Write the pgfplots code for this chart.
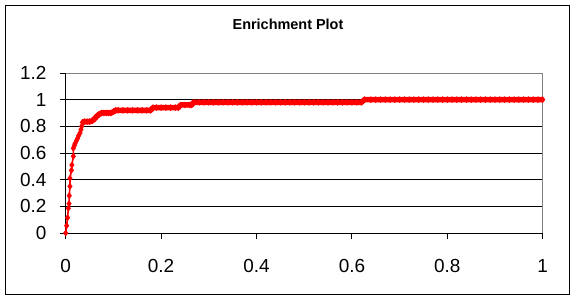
\documentclass[border=0pt]{standalone}
\usepackage{fontspec}
\setmainfont{Liberation Sans}
\usepackage{pgfplots}
\pgfplotsset{compat=1.18}
\definecolor{xred}{HTML}{FF0000}
\definecolor{xgray}{HTML}{808080}
\begin{document}
\begin{tikzpicture}[x=1bp,y=1bp]
\useasboundingbox (0,0) rectangle (576,300);
\draw[black, line width=1bp] (5.5,5.5) rectangle (569.5,294.5);
\node[anchor=base, font=\bfseries\fontsize{14.5}{16}\selectfont] at (288,271) {Enrichment Plot};
\begin{axis}[
  at={(65.7bp,67bp)}, anchor=south west,
  scale only axis, width=477bp, height=160bp,
  xmin=0, xmax=1, ymin=0, ymax=1.2,
  xtick={0,0.2,0.4,0.6,0.8,1},
  ytick={0,0.2,0.4,0.6,0.8,1,1.2},
  xticklabels={0,0.2,0.4,0.6,0.8,1},
  yticklabels={0,0.2,0.4,0.6,0.8,1,1.2},
  ymajorgrids, grid style={black, line width=0.9bp},
  axis line style={draw=xgray, line width=0.9bp},
  tick style={black, line width=0.9bp},
  major tick length=6bp, tick align=outside,
  xtick pos=left, ytick pos=left,
  tick label style={font=\fontsize{19}{21}\selectfont},
  /pgf/number format/assume math mode=true,
  yticklabel style={anchor=east, inner sep=0pt},
  yticklabel shift=13bp,
  xticklabel style={anchor=north, inner sep=0pt},
  xticklabel shift=20bp,
  clip=false,
]
\draw[black, line width=0.9bp] (rel axis cs:0,0) -- (rel axis cs:0,1);
\draw[black, line width=0.9bp] (rel axis cs:0,0) -- (rel axis cs:1,0);
\addplot[xred, line width=5.5bp, line join=round] coordinates {
(0.035,0.83) (0.04,0.835) (0.045,0.835) (0.05,0.835) (0.055,0.84) (0.06,0.855) (0.065,0.875) (0.07,0.89) (0.075,0.9) (0.08,0.9) (0.085,0.9) (0.09,0.9) (0.095,0.9) (0.1,0.91) (0.105,0.92)
(0.11,0.92) (0.12,0.92) (0.13,0.92) (0.14,0.92) (0.15,0.92) (0.16,0.92) (0.17,0.92) (0.178,0.92) (0.183,0.94)
(0.19,0.94) (0.2,0.94) (0.21,0.94) (0.22,0.94) (0.23,0.94) (0.236,0.94) (0.241,0.96) (0.25,0.96) (0.26,0.96) (0.264,0.96) (0.268,0.98)
(0.28,0.98) (0.3,0.98) (0.35,0.98) (0.4,0.98) (0.45,0.98) (0.5,0.98) (0.55,0.98) (0.6,0.98) (0.62,0.98) (0.626,1.0)
(0.65,1.0) (0.7,1.0) (0.75,1.0) (0.8,1.0) (0.85,1.0) (0.9,1.0) (0.95,1.0) (1.0,1.0)
};
\addplot[xred, line width=1.6bp, mark=diamond*, mark size=3bp, mark options={solid, fill=xred, line width=0.5bp}] coordinates {
(0,0) (0.002,0.055) (0.004,0.115) (0.0055,0.185) (0.007,0.22) (0.0075,0.28) (0.009,0.35) (0.009,0.41) (0.012,0.47) (0.013,0.51) (0.016,0.575) (0.016,0.635) (0.018,0.655) (0.0195,0.67) (0.022,0.69) (0.025,0.71) (0.027,0.73) (0.03,0.75) (0.032,0.775) (0.0335,0.8) (0.035,0.83)
(0.04,0.835) (0.045,0.835) (0.05,0.835) (0.055,0.84) (0.06,0.855) (0.065,0.875) (0.07,0.89) (0.075,0.9) (0.08,0.9) (0.085,0.9) (0.09,0.9) (0.095,0.9) (0.1,0.91) (0.105,0.92)
(0.11,0.92) (0.12,0.92) (0.13,0.92) (0.14,0.92) (0.15,0.92) (0.16,0.92) (0.17,0.92) (0.178,0.92) (0.183,0.94)
(0.19,0.94) (0.2,0.94) (0.21,0.94) (0.22,0.94) (0.23,0.94) (0.236,0.94) (0.241,0.96) (0.25,0.96) (0.26,0.96) (0.264,0.96) (0.268,0.98)
(0.28,0.98) (0.29,0.98) (0.3,0.98) (0.31,0.98) (0.32,0.98) (0.33,0.98) (0.34,0.98) (0.35,0.98) (0.36,0.98) (0.37,0.98) (0.38,0.98) (0.39,0.98) (0.4,0.98) (0.41,0.98) (0.42,0.98) (0.43,0.98) (0.44,0.98) (0.45,0.98) (0.46,0.98) (0.47,0.98) (0.48,0.98) (0.49,0.98) (0.5,0.98) (0.51,0.98) (0.52,0.98) (0.53,0.98) (0.54,0.98) (0.55,0.98) (0.56,0.98) (0.57,0.98) (0.58,0.98) (0.59,0.98) (0.6,0.98) (0.61,0.98) (0.62,0.98) (0.626,1.0)
(0.64,1.0) (0.65,1.0) (0.66,1.0) (0.67,1.0) (0.68,1.0) (0.69,1.0) (0.7,1.0) (0.71,1.0) (0.72,1.0) (0.73,1.0) (0.74,1.0) (0.75,1.0) (0.76,1.0) (0.77,1.0) (0.78,1.0) (0.79,1.0) (0.8,1.0) (0.81,1.0) (0.82,1.0) (0.83,1.0) (0.84,1.0) (0.85,1.0) (0.86,1.0) (0.87,1.0) (0.88,1.0) (0.89,1.0) (0.9,1.0) (0.91,1.0) (0.92,1.0) (0.93,1.0) (0.94,1.0) (0.95,1.0) (0.96,1.0) (0.97,1.0) (0.98,1.0) (0.99,1.0) (1.0,1.0)
};
\end{axis}
\end{tikzpicture}
\end{document}
